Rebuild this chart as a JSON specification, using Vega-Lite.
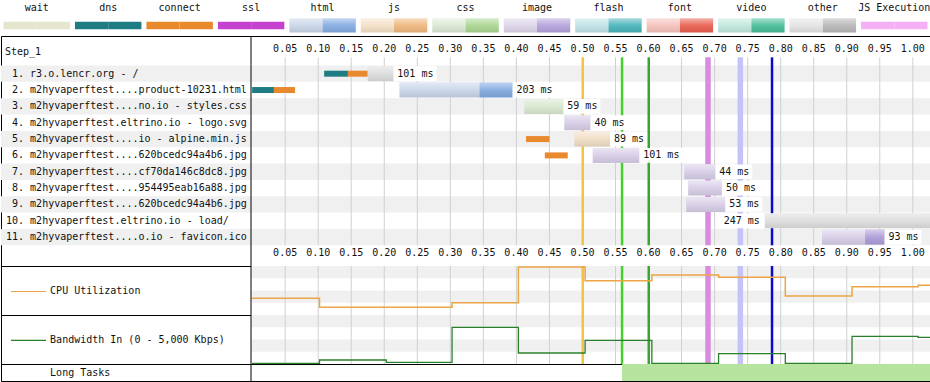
{
"$schema":"https://vega.github.io/schema/vega-lite/v6.json",
"padding":0,
"background":"white",
"spacing":0,
"bounds":"flush",
"config":{"font":"DejaVu Sans Mono","view":{"stroke":"#000","strokeWidth":1},"axis":{"disable":true},"legend":{"disable":true},"concat":{"spacing":0},"text":{"fontSize":10,"color":"#111"}},
"datasets":{
"legend":[
{"item":"wait","half":"a"},{"item":"wait","half":"b"},
{"item":"dns","half":"a"},{"item":"dns","half":"b"},
{"item":"connect","half":"a"},{"item":"connect","half":"b"},
{"item":"ssl","half":"a"},{"item":"ssl","half":"b"},
{"item":"html","half":"a"},{"item":"html","half":"b"},
{"item":"js","half":"a"},{"item":"js","half":"b"},
{"item":"css","half":"a"},{"item":"css","half":"b"},
{"item":"image","half":"a"},{"item":"image","half":"b"},
{"item":"flash","half":"a"},{"item":"flash","half":"b"},
{"item":"font","half":"a"},{"item":"font","half":"b"},
{"item":"video","half":"a"},{"item":"video","half":"b"},
{"item":"other","half":"a"},{"item":"other","half":"b"},
{"item":"JS Execution","half":"a"},{"item":"JS Execution","half":"b"}
],
"requests":[
{"row":1,"idx":"1.","name":"r3.o.lencr.org - /"},
{"row":2,"idx":"2.","name":"m2hyvaperftest....product-10231.html"},
{"row":3,"idx":"3.","name":"m2hyvaperftest....no.io - styles.css"},
{"row":4,"idx":"4.","name":"m2hyvaperftest.eltrino.io - logo.svg"},
{"row":5,"idx":"5.","name":"m2hyvaperftest....io - alpine.min.js"},
{"row":6,"idx":"6.","name":"m2hyvaperftest....620bcedc94a4b6.jpg"},
{"row":7,"idx":"7.","name":"m2hyvaperftest....cf70da146c8dc8.jpg"},
{"row":8,"idx":"8.","name":"m2hyvaperftest....954495eab16a88.jpg"},
{"row":9,"idx":"9.","name":"m2hyvaperftest....620bcedc94a4b6.jpg"},
{"row":10,"idx":"10.","name":"m2hyvaperftest.eltrino.io - load/"},
{"row":11,"idx":"11.","name":"m2hyvaperftest....o.io - favicon.ico"}
],
"segments":[
{"row":1,"kind":"dns","start":0.109,"end":0.145},
{"row":1,"kind":"connect","start":0.145,"end":0.175},
{"row":1,"kind":"other ttfb","start":0.175,"end":0.2137},
{"row":2,"kind":"dns","start":0.0,"end":0.033},
{"row":2,"kind":"connect","start":0.033,"end":0.065},
{"row":2,"kind":"html ttfb","start":0.223,"end":0.344},
{"row":2,"kind":"html download","start":0.344,"end":0.394},
{"row":3,"kind":"css ttfb","start":0.412,"end":0.471},
{"row":4,"kind":"image ttfb","start":0.4725,"end":0.512},
{"row":5,"kind":"connect","start":0.4146,"end":0.45},
{"row":5,"kind":"js ttfb","start":0.4877,"end":0.5417},
{"row":6,"kind":"connect","start":0.443,"end":0.4777},
{"row":6,"kind":"image ttfb","start":0.5155,"end":0.586},
{"row":7,"kind":"image ttfb","start":0.654,"end":0.701},
{"row":8,"kind":"image ttfb","start":0.66,"end":0.711},
{"row":9,"kind":"image ttfb","start":0.657,"end":0.716},
{"row":10,"kind":"other ttfb","start":0.776,"end":1.026},
{"row":11,"kind":"image ttfb","start":0.8626,"end":0.9277},
{"row":11,"kind":"image download","start":0.9277,"end":0.957}
],
"timing":[
{"row":1,"t":0.2137,"lbl":"101 ms","side":"r"},
{"row":2,"t":0.394,"lbl":"203 ms","side":"r"},
{"row":3,"t":0.471,"lbl":"59 ms","side":"r"},
{"row":4,"t":0.512,"lbl":"40 ms","side":"r"},
{"row":5,"t":0.5417,"lbl":"89 ms","side":"r"},
{"row":6,"t":0.586,"lbl":"101 ms","side":"r"},
{"row":7,"t":0.701,"lbl":"44 ms","side":"r"},
{"row":8,"t":0.711,"lbl":"50 ms","side":"r"},
{"row":9,"t":0.716,"lbl":"53 ms","side":"r"},
{"row":10,"t":0.776,"lbl":"247 ms","side":"l"},
{"row":11,"t":0.957,"lbl":"93 ms","side":"r"}
],
"ticks":[{"t":0.05},{"t":0.1},{"t":0.15},{"t":0.2},{"t":0.25},{"t":0.3},{"t":0.35},{"t":0.4},{"t":0.45},{"t":0.5},{"t":0.55},{"t":0.6},{"t":0.65},{"t":0.7},{"t":0.75},{"t":0.8},{"t":0.85},{"t":0.9},{"t":0.95},{"t":1.0}],
"events":[
{"name":"domInteractive","t":0.5004},
{"name":"startRender","t":0.5599},
{"name":"fcp","t":0.6003},
{"name":"domContentLoaded","t":0.690},
{"name":"onLoad","t":0.7389},
{"name":"docComplete","t":0.7869}
],
"cpu":[
{"t":0,"v":34},{"t":0.102,"v":15.7},{"t":0.203,"v":15.7},{"t":0.3026,"v":25},{"t":0.403,"v":98},{"t":0.504,"v":70},{"t":0.605,"v":81.6},{"t":0.706,"v":77},{"t":0.807,"v":38.8},{"t":0.908,"v":57.8},{"t":1.008,"v":60.6},{"t":1.026,"v":60.6}
],
"bw":[
{"t":0,"v":70},{"t":0.102,"v":408},{"t":0.203,"v":173},{"t":0.3026,"v":3745},{"t":0.403,"v":1122},{"t":0.504,"v":2418},{"t":0.605,"v":70},{"t":0.706,"v":1051},{"t":0.807,"v":70},{"t":0.908,"v":2826},{"t":1.008,"v":2724},{"t":1.026,"v":2724}
],
"longtasks":[{"start":0.5599,"end":1.026}],
"panel":[{"edge":"divider"}]
},
"vconcat":[
{
"width":929,"height":36,"view":{"stroke":null},
"data":{"name":"legend"},
"transform":[{"calculate":"datum.item + '|' + datum.half","as":"ckey"}],
"layer":[
{"transform":[{"filter":"datum.half == 'a'"}],
"mark":{"type":"text","baseline":"middle","fontSize":10,"color":"#111"},
"encoding":{"x":{"field":"item","type":"nominal","axis":null,"scale":{"domain":["wait","dns","connect","ssl","html","js","css","image","flash","font","video","other","JS Execution"],"paddingInner":0.07,"paddingOuter":0.035}},
"y":{"datum":8,"type":"quantitative","axis":null,"scale":{"domain":[0,36],"reverse":true,"nice":false,"zero":false}},
"text":{"field":"item"}}},
{"transform":[{"filter":"indexof(['wait','dns','connect','ssl','JS Execution'], datum.item) < 0"}],
"mark":{"type":"bar"},
"encoding":{"x":{"field":"item","type":"nominal","axis":null},
"xOffset":{"field":"half","type":"nominal","scale":{"paddingInner":0,"paddingOuter":0}},
"y":{"datum":18.5,"type":"quantitative","axis":null},"y2":{"datum":32.5},
"color":{"field":"ckey","type":"nominal","legend":null,"scale":{"domain":["wait|a","wait|b","dns|a","dns|b","connect|a","connect|b","ssl|a","ssl|b","html|a","html|b","js|a","js|b","css|a","css|b","image|a","image|b","flash|a","flash|b","font|a","font|b","video|a","video|b","other|a","other|b","JS Execution|a","JS Execution|b","dns","connect","other ttfb","html ttfb","html download","css ttfb","image ttfb","image download","js ttfb","domInteractive","startRender","fcp","domContentLoaded","onLoad","docComplete"],"range":["#e6e6cf","#e6e6cf","#1f7c83","#1f7c83","#e8892e","#e8892e","#c542cf","#c542cf","#c9d5e8","#83abe0","#f3dfc6","#eeb67c","#dbe8d3","#a9d690","#dcd5e8","#b3a1da","#bfe2e5","#48b3bb","#f4c1bb","#e85e4e","#bfe7dc","#47bc98","#e3e3e3","#b7b7b7","#f5b0f5","#f5b0f5","#1f7c83","#e8892e","#dcdcdc","#c8d4e8","#80a9df","#d8e7cf","#d6cde6","#ad9bd8","#efdcc4","#f5c343","#44d12e","#36a62e","#d98be0","#c3c3fa","#0a0ac8"]}}}},
{"transform":[{"filter":"indexof(['wait','dns','connect','ssl','JS Execution'], datum.item) >= 0"}],
"mark":{"type":"bar"},
"encoding":{"x":{"field":"item","type":"nominal","axis":null},
"xOffset":{"field":"half","type":"nominal","scale":{"paddingInner":0,"paddingOuter":0}},
"y":{"datum":21.8,"type":"quantitative","axis":null},"y2":{"datum":29.3},
"color":{"field":"ckey","type":"nominal","legend":null}}},
{"transform":[{"filter":"datum.half == 'a' && indexof(['wait','dns','connect','ssl','JS Execution'], datum.item) < 0"}],
"mark":{"type":"bar","fill":{"gradient":"linear","x1":0,"y1":0,"x2":0,"y2":1,"stops":[{"offset":0,"color":"rgba(255,255,255,0.5)"},{"offset":0.5,"color":"rgba(255,255,255,0.08)"},{"offset":1,"color":"rgba(0,0,0,0.07)"}]}},
"encoding":{"x":{"field":"item","type":"nominal","axis":null},
"y":{"datum":18.5,"type":"quantitative","axis":null},"y2":{"datum":32.5}}}
]
},
{"width":929,"height":230,
"resolve":{"scale":{"x":"independent"}},
"layer":[
{"layer":[
{"data":{"name":"requests"},"transform":[{"filter":"datum.row % 2 == 1"},{"calculate":"datum.row - 0.5","as":"y1"},{"calculate":"datum.row + 0.5","as":"y2"}],
"mark":{"type":"rect","color":"#f0f0f0"},
"encoding":{"x":{"datum":0,"type":"quantitative","axis":null,"scale":{"domain":[0,41.5],"range":[0,250],"nice":false,"zero":false}},"x2":{"datum":41.5},
"y":{"field":"y1","type":"quantitative","axis":null,"scale":{"domain":[-1,12.46],"reverse":true,"nice":false,"zero":false}},"y2":{"field":"y2"}}},
{"data":{"values":[{"s":"Step_1"}]},"mark":{"type":"text","align":"left","baseline":"middle"},
"encoding":{"x":{"datum":0.66,"type":"quantitative","axis":null},"y":{"datum":-0.3,"type":"quantitative","axis":null},"text":{"field":"s"}}},
{"data":{"name":"requests"},"mark":{"type":"text","align":"right","baseline":"middle"},
"encoding":{"x":{"datum":3.83,"type":"quantitative","axis":null},"y":{"field":"row","type":"quantitative","axis":null},"text":{"field":"idx"}}},
{"data":{"name":"requests"},"mark":{"type":"text","align":"left","baseline":"middle"},
"encoding":{"x":{"datum":4.83,"type":"quantitative","axis":null},"y":{"field":"row","type":"quantitative","axis":null},"text":{"field":"name"}}}
]},
{"layer":[
{"data":{"name":"requests"},"transform":[{"filter":"datum.row % 2 == 1"},{"calculate":"datum.row - 0.5","as":"y1"},{"calculate":"datum.row + 0.5","as":"y2"}],
"mark":{"type":"rect","color":"#f0f0f0"},
"encoding":{"x":{"datum":-0.0017,"type":"quantitative","axis":null,"scale":{"domain":[-0.0017,1.026],"range":[250,929],"nice":false,"zero":false}},"x2":{"datum":1.026},
"y":{"field":"y1","type":"quantitative","axis":null},"y2":{"field":"y2"}}},
{"data":{"name":"ticks"},"mark":{"type":"rule","color":"#d0d0d0","strokeWidth":1},
"encoding":{"x":{"field":"t","type":"quantitative","axis":null},"y":{"datum":0,"type":"quantitative","axis":null},"y2":{"datum":11.5}}},
{"data":{"name":"events"},"transform":[{"filter":"indexof(['domContentLoaded','onLoad'], datum.name) < 0"}],"mark":{"type":"rule","strokeWidth":2.5},
"encoding":{"x":{"field":"t","type":"quantitative","axis":null},"y":{"datum":0,"type":"quantitative","axis":null},"y2":{"datum":11.5},
"color":{"field":"name","type":"nominal","legend":null}}},
{"data":{"name":"events"},"transform":[{"filter":"indexof(['domContentLoaded','onLoad'], datum.name) >= 0"}],"mark":{"type":"rule","strokeWidth":5.5},
"encoding":{"x":{"field":"t","type":"quantitative","axis":null},"y":{"datum":0,"type":"quantitative","axis":null},"y2":{"datum":11.5},
"color":{"field":"name","type":"nominal","legend":null}}},
{"data":{"name":"timing"},"transform":[{"calculate":"(length(datum.lbl)*6.02+7)/660.7","as":"w"},{"calculate":"datum.side == 'r' ? datum.t : datum.t - datum.w","as":"bx1"},{"calculate":"datum.side == 'r' ? datum.t + datum.w : datum.t","as":"bx2"},{"calculate":"datum.row - 0.45","as":"by1"},{"calculate":"datum.row + 0.45","as":"by2"}],
"mark":{"type":"rect","color":"white"},
"encoding":{"x":{"field":"bx1","type":"quantitative","axis":null},"x2":{"field":"bx2"},"y":{"field":"by1","type":"quantitative","axis":null},"y2":{"field":"by2"}}},
{"data":{"name":"segments"},"transform":[{"filter":"datum.kind == 'dns' || datum.kind == 'connect'"}],"mark":{"type":"bar","size":6},
"encoding":{"x":{"field":"start","type":"quantitative","axis":null},"x2":{"field":"end"},"y":{"field":"row","type":"quantitative","axis":null},"color":{"field":"kind","type":"nominal","legend":null}}},
{"data":{"name":"segments"},"transform":[{"filter":"datum.kind != 'dns' && datum.kind != 'connect'"}],"mark":{"type":"bar","size":15},
"encoding":{"x":{"field":"start","type":"quantitative","axis":null},"x2":{"field":"end"},"y":{"field":"row","type":"quantitative","axis":null},"color":{"field":"kind","type":"nominal","legend":null}}},
{"data":{"name":"segments"},"transform":[{"filter":"datum.kind != 'dns' && datum.kind != 'connect'"}],"mark":{"type":"bar","size":15,"fill":{"gradient":"linear","x1":0,"y1":0,"x2":0,"y2":1,"stops":[{"offset":0,"color":"rgba(255,255,255,0.5)"},{"offset":0.5,"color":"rgba(255,255,255,0.08)"},{"offset":1,"color":"rgba(0,0,0,0.07)"}]}},
"encoding":{"x":{"field":"start","type":"quantitative","axis":null},"x2":{"field":"end"},"y":{"field":"row","type":"quantitative","axis":null}}},
{"data":{"name":"timing"},"transform":[{"filter":"datum.side == 'r'"}],"mark":{"type":"text","align":"left","baseline":"middle","dx":4},
"encoding":{"x":{"field":"t","type":"quantitative","axis":null},"y":{"field":"row","type":"quantitative","axis":null},"text":{"field":"lbl"}}},
{"data":{"name":"timing"},"transform":[{"filter":"datum.side == 'l'"}],"mark":{"type":"text","align":"right","baseline":"middle","dx":-5},
"encoding":{"x":{"field":"t","type":"quantitative","axis":null},"y":{"field":"row","type":"quantitative","axis":null},"text":{"field":"lbl"}}},
{"data":{"name":"ticks"},"mark":{"type":"text","align":"center","baseline":"middle"},
"encoding":{"x":{"field":"t","type":"quantitative","axis":null},"y":{"datum":-0.5,"type":"quantitative","axis":null},"text":{"field":"t","type":"quantitative","format":".2f"}}},
{"data":{"name":"ticks"},"mark":{"type":"text","align":"center","baseline":"middle"},
"encoding":{"x":{"field":"t","type":"quantitative","axis":null},"y":{"datum":11.95,"type":"quantitative","axis":null},"text":{"field":"t","type":"quantitative","format":".2f"}}}
]},
{"data":{"name":"panel"},"mark":{"type":"rule","color":"#000","strokeWidth":1},
"encoding":{"x":{"datum":41.5,"type":"quantitative","axis":null,"scale":{"domain":[0,41.5],"range":[0,250],"nice":false,"zero":false}}}}
]},
{"width":929,"height":49,
"resolve":{"scale":{"x":"independent"}},
"layer":[
{"data":{"values":[{"label":"CPU Utilization"}]},
"layer":[
{"mark":{"type":"rule","color":"#eba446","strokeWidth":1.2},
"encoding":{"x":{"datum":1.66,"type":"quantitative","axis":null,"scale":{"domain":[0,41.5],"range":[0,250],"nice":false,"zero":false}},"x2":{"datum":7.48},"y":{"datum":48,"type":"quantitative","axis":null,"scale":{"domain":[0,100],"nice":false,"zero":false}}}},
{"mark":{"type":"text","align":"left","baseline":"middle"},
"encoding":{"x":{"datum":8.15,"type":"quantitative","axis":null},"y":{"datum":48,"type":"quantitative","axis":null},"text":{"field":"label"}}}
]},
{"layer":[
{"data":{"values":[{"band":"upper"}]},"mark":{"type":"rect","color":"#f0f0f0"},
"encoding":{"x":{"datum":-0.0017,"type":"quantitative","axis":null,"scale":{"domain":[-0.0017,1.026],"range":[250,929],"nice":false,"zero":false}},"x2":{"datum":1.026},"y":{"datum":75,"type":"quantitative","axis":null},"y2":{"datum":100}}},
{"data":{"values":[{"band":"lower"}]},"mark":{"type":"rect","color":"#f0f0f0"},
"encoding":{"x":{"datum":-0.0017,"type":"quantitative","axis":null},"x2":{"datum":1.026},"y":{"datum":25,"type":"quantitative","axis":null},"y2":{"datum":50}}},
{"data":{"name":"ticks"},"mark":{"type":"rule","color":"#d0d0d0","strokeWidth":1},
"encoding":{"x":{"field":"t","type":"quantitative","axis":null}}},
{"data":{"name":"events"},"transform":[{"filter":"indexof(['domContentLoaded','onLoad'], datum.name) < 0"}],"mark":{"type":"rule","strokeWidth":2.5},
"encoding":{"x":{"field":"t","type":"quantitative","axis":null},"color":{"field":"name","type":"nominal","legend":null}}},
{"data":{"name":"events"},"transform":[{"filter":"indexof(['domContentLoaded','onLoad'], datum.name) >= 0"}],"mark":{"type":"rule","strokeWidth":5.5},
"encoding":{"x":{"field":"t","type":"quantitative","axis":null},"color":{"field":"name","type":"nominal","legend":null}}},
{"data":{"name":"cpu"},"mark":{"type":"line","interpolate":"step-after","color":"#eba446","strokeWidth":1.5},
"encoding":{"x":{"field":"t","type":"quantitative","axis":null},"y":{"field":"v","type":"quantitative","axis":null}}}
]},
{"data":{"name":"panel"},"mark":{"type":"rule","color":"#000","strokeWidth":1},
"encoding":{"x":{"datum":41.5,"type":"quantitative","axis":null,"scale":{"domain":[0,41.5],"range":[0,250],"nice":false,"zero":false}}}}
]},
{"width":929,"height":49,
"resolve":{"scale":{"x":"independent"}},
"layer":[
{"data":{"values":[{"label":"Bandwidth In (0 - 5,000 Kbps)"}]},
"layer":[
{"mark":{"type":"rule","color":"#2a7f2a","strokeWidth":1.2},
"encoding":{"x":{"datum":1.66,"type":"quantitative","axis":null,"scale":{"domain":[0,41.5],"range":[0,250],"nice":false,"zero":false}},"x2":{"datum":7.48},"y":{"datum":2420,"type":"quantitative","axis":null,"scale":{"domain":[0,5000],"nice":false,"zero":false}}}},
{"mark":{"type":"text","align":"left","baseline":"middle"},
"encoding":{"x":{"datum":8.15,"type":"quantitative","axis":null},"y":{"datum":2420,"type":"quantitative","axis":null},"text":{"field":"label"}}}
]},
{"layer":[
{"data":{"values":[{"band":"upper"}]},"mark":{"type":"rect","color":"#f0f0f0"},
"encoding":{"x":{"datum":-0.0017,"type":"quantitative","axis":null,"scale":{"domain":[-0.0017,1.026],"range":[250,929],"nice":false,"zero":false}},"x2":{"datum":1.026},"y":{"datum":3750,"type":"quantitative","axis":null},"y2":{"datum":5000}}},
{"data":{"values":[{"band":"lower"}]},"mark":{"type":"rect","color":"#f0f0f0"},
"encoding":{"x":{"datum":-0.0017,"type":"quantitative","axis":null},"x2":{"datum":1.026},"y":{"datum":1250,"type":"quantitative","axis":null},"y2":{"datum":2500}}},
{"data":{"name":"ticks"},"mark":{"type":"rule","color":"#d0d0d0","strokeWidth":1},
"encoding":{"x":{"field":"t","type":"quantitative","axis":null}}},
{"data":{"name":"events"},"transform":[{"filter":"indexof(['domContentLoaded','onLoad'], datum.name) < 0"}],"mark":{"type":"rule","strokeWidth":2.5},
"encoding":{"x":{"field":"t","type":"quantitative","axis":null},"color":{"field":"name","type":"nominal","legend":null}}},
{"data":{"name":"events"},"transform":[{"filter":"indexof(['domContentLoaded','onLoad'], datum.name) >= 0"}],"mark":{"type":"rule","strokeWidth":5.5},
"encoding":{"x":{"field":"t","type":"quantitative","axis":null},"color":{"field":"name","type":"nominal","legend":null}}},
{"data":{"name":"bw"},"mark":{"type":"line","interpolate":"step-after","color":"#2a7f2a","strokeWidth":1.3},
"encoding":{"x":{"field":"t","type":"quantitative","axis":null},"y":{"field":"v","type":"quantitative","axis":null}}}
]},
{"data":{"name":"panel"},"mark":{"type":"rule","color":"#000","strokeWidth":1},
"encoding":{"x":{"datum":41.5,"type":"quantitative","axis":null,"scale":{"domain":[0,41.5],"range":[0,250],"nice":false,"zero":false}}}}
]},
{"width":929,"height":17,
"resolve":{"scale":{"x":"independent"}},
"layer":[
{"data":{"values":[{"label":"Long Tasks"}]},
"mark":{"type":"text","align":"left","baseline":"middle"},
"encoding":{"x":{"datum":8.15,"type":"quantitative","axis":null,"scale":{"domain":[0,41.5],"range":[0,250],"nice":false,"zero":false}},"y":{"datum":0.45,"type":"quantitative","axis":null,"scale":{"domain":[0,1],"nice":false,"zero":false}},"text":{"field":"label"}}},
{"data":{"name":"longtasks"},
"mark":{"type":"rect","color":"#b6e49f"},
"encoding":{"x":{"field":"start","type":"quantitative","axis":null,"scale":{"domain":[-0.0017,1.026],"range":[250,929],"nice":false,"zero":false}},"x2":{"field":"end"},"y":{"datum":0,"type":"quantitative","axis":null},"y2":{"datum":1}}},
{"data":{"name":"panel"},"mark":{"type":"rule","color":"#000","strokeWidth":1},
"encoding":{"x":{"datum":41.5,"type":"quantitative","axis":null,"scale":{"domain":[0,41.5],"range":[0,250],"nice":false,"zero":false}}}}
]}
]
}
